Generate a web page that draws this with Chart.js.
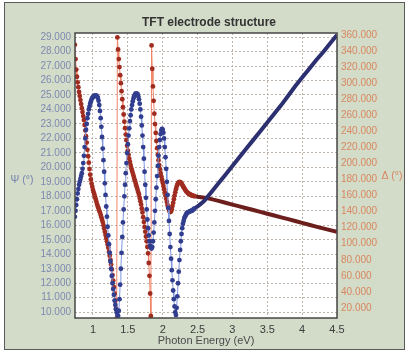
<!DOCTYPE html>
<html>
<head>
<meta charset="utf-8">
<script src="https://cdn.jsdelivr.net/npm/chart.js@4.4.0/dist/chart.umd.min.js"></script>
<style>
	html, body { margin: 0; padding: 0; background: #fff; }
</style>
</head>
<body>
<canvas id="myChart" width="409" height="357"></canvas>
<script>
// photon energy (eV): dense sampling through the fringes, coarser on the smooth tail
var energy = [
	0.74, 0.75, 0.76, 0.77, 0.78, 0.79, 0.80, 0.81, 0.82, 0.83,
	0.84, 0.85, 0.86, 0.87, 0.88, 0.89, 0.90, 0.91, 0.92, 0.93,
	0.94, 0.95, 0.96, 0.97, 0.98, 0.99, 1.00, 1.01, 1.02, 1.03,
	1.04, 1.05, 1.06, 1.07, 1.08, 1.09, 1.10, 1.11, 1.12, 1.13,
	1.14, 1.15, 1.16, 1.17, 1.18, 1.19, 1.20, 1.21, 1.22, 1.23,
	1.24, 1.25, 1.26, 1.27, 1.28, 1.29, 1.30, 1.31, 1.32, 1.33,
	1.34, 1.35, 1.36, 1.37, 1.38, 1.39, 1.40, 1.41, 1.42, 1.43,
	1.44, 1.45, 1.46, 1.47, 1.48, 1.49, 1.50, 1.51, 1.52, 1.53,
	1.54, 1.55, 1.56, 1.57, 1.58, 1.59, 1.60, 1.61, 1.62, 1.63,
	1.64, 1.65, 1.66, 1.67, 1.68, 1.69, 1.70, 1.71, 1.72, 1.73,
	1.74, 1.75, 1.76, 1.77, 1.78, 1.79, 1.80, 1.81, 1.82, 1.83,
	1.84, 1.85, 1.86, 1.87, 1.88, 1.89, 1.90, 1.91, 1.92, 1.93,
	1.94, 1.95, 1.96, 1.97, 1.98, 1.99, 2.00, 2.01, 2.02, 2.03,
	2.04, 2.05, 2.06, 2.07, 2.08, 2.09, 2.10, 2.11, 2.12, 2.13,
	2.14, 2.15, 2.16, 2.17, 2.18, 2.19, 2.20, 2.21, 2.22, 2.23,
	2.24, 2.25, 2.26, 2.27, 2.28, 2.29, 2.30, 2.31, 2.32, 2.33,
	2.34, 2.35, 2.36, 2.37, 2.38, 2.39, 2.40, 2.41, 2.42, 2.43,
	2.44, 2.45,
	2.50, 2.55, 2.60, 2.65, 2.70, 2.80, 2.90, 3.00, 3.10, 3.20,
	3.30, 3.40, 3.50, 3.60, 3.70, 3.80, 3.90, 4.00, 4.10, 4.20,
	4.30, 4.40, 4.50
];

// Psi (deg), left axis
var psi = [
	16.6, 17.0, 17.4, 17.8, 18.2, 18.5, 18.8, 19.0, 19.2, 19.4,
	19.6, 19.9, 20.3, 20.8, 21.4, 22.0, 22.6, 23.0, 23.4, 23.7,
	24.0, 24.2, 24.4, 24.55, 24.7, 24.8, 24.85, 24.9, 24.95, 24.95,
	24.95, 24.95, 24.9, 24.8, 24.6, 24.3, 23.9, 23.4, 22.8, 22.1,
	21.3, 20.5, 19.7, 18.9, 18.1, 17.3, 16.6, 15.9, 15.3, 14.7,
	14.1, 13.5, 13.0, 12.5, 12.0, 11.6, 11.2, 10.8, 10.5, 10.2,
	10.0, 9.8, 9.75, 10.1, 10.9, 11.9, 13.0, 14.1, 15.2, 16.2,
	17.1, 18.0, 18.8, 19.6, 20.3, 21.0, 21.6, 22.2, 22.7, 23.2,
	23.6, 24.0, 24.3, 24.55, 24.75, 24.9, 25.0, 25.1, 25.1, 25.1,
	25.05, 24.9, 24.7, 24.4, 24.0, 23.5, 22.9, 22.2, 21.4, 20.6,
	19.7, 18.8, 17.9, 17.1, 16.4, 15.8, 15.3, 14.9, 14.6, 14.45,
	14.4, 14.5, 14.9, 15.5, 16.2, 17.0, 17.8, 18.6, 19.4, 20.1,
	20.8, 21.4, 21.9, 22.3, 22.55, 22.65, 22.6, 22.4, 22.0, 21.4,
	20.7, 19.9, 19.0, 18.1, 17.2, 16.3, 15.4, 14.5, 13.7, 12.9,
	12.2, 11.5, 10.9, 10.4, 10.0, 9.8, 10.3, 11.1, 12.0, 12.8,
	13.6, 14.3, 14.9, 15.4, 15.8, 16.1, 16.3, 16.5, 16.6, 16.7,
	16.8, 16.85, 16.9, 16.9, 16.95, 16.95, 17.0, 17.0, 17.0, 17.05,
	17.1, 17.15,
	17.3, 17.5, 17.7, 18.0, 18.3, 18.9, 19.5, 20.1, 20.7, 21.3,
	21.9, 22.5, 23.1, 23.7, 24.3, 24.95, 25.6, 26.2, 26.8, 27.4,
	27.95, 28.55, 29.15
];

// Delta (deg), right axis
var delta = [
	348, 330, 317, 308, 301, 295, 289, 284, 279, 274,
	269, 264, 259, 254, 248, 241, 234, 226, 217, 209,
	201, 193, 186, 180, 175, 171, 167, 164, 161, 158,
	155, 152, 149, 146, 144, 141, 139, 136, 133, 130,
	127, 123, 119, 115, 111, 107, 103, 99, 95, 90,
	85, 80, 74, 68, 61, 54, 46, 38, 29, 19,
	7, 357, 342, 330, 320, 310, 300, 290, 280, 270,
	261, 252, 244, 236, 229, 222, 216, 211, 206, 202,
	198, 194, 191, 188, 185, 182, 179, 176, 173, 170,
	167, 164, 161, 157, 153, 149, 144, 139, 133, 127,
	121, 115, 109, 103, 96, 88, 76, 60, 38, 10,
	347, 318, 296, 278, 262, 249, 238, 228, 219, 211,
	204, 198, 193, 188, 184, 180, 176, 172, 168, 164,
	160, 156, 152, 148, 145, 142, 140, 139.5, 140.5, 143,
	147, 151, 155.5, 160, 164, 168, 171, 173.5, 175.5, 176.5,
	177, 176.8, 176, 175, 173.5, 172, 170.5, 169, 167.5, 166.2,
	165, 164, 163.2, 162.5, 162, 161.5, 161, 160.6, 160.2, 159.9,
	159.6, 159.3,
	158.6, 158, 157.4, 156.6, 155.6, 153.4, 151.1, 148.8, 146.5, 144.2,
	142, 139.7, 137.4, 135.2, 132.9, 130.6, 128.3, 126, 123.7, 121.4,
	119.2, 117, 114.8
];

var dotted = 2.45; // beyond this the markers merge into a solid line

var FONT = '"Liberation Sans", Arial, sans-serif';
Chart.defaults.font.family = FONT;

function pairs(ys) {
	return energy.map(function(e, i) { return {x: e, y: ys[i]}; });
}

function series(label, ys, axis, light, dark, dot) {
	return {
		label: label,
		data: pairs(ys),
		yAxisID: axis,
		borderColor: light,
		borderWidth: 1,
		pointRadius: function(c) { return energy[c.dataIndex] > dotted ? 0 : 2.4; },
		pointBackgroundColor: dot,
		pointBorderWidth: 0,
		tension: 0,
		segment: {
			borderColor: function(c) { return c.p0.parsed.x >= dotted ? dark : light; },
			borderWidth: function(c) { return c.p0.parsed.x >= dotted ? 4 : 1; }
		}
	};
}

var frame = {
	id: 'frame',
	beforeDraw: function(chart) {
		var ctx = chart.ctx, a = chart.chartArea;
		ctx.save();
		ctx.fillStyle = '#fff';
		ctx.fillRect(0, 0, chart.width, chart.height);
		ctx.fillStyle = '#d3dbc9';
		ctx.fillRect(4, 2, 401, 348);
		ctx.strokeStyle = '#5a5a5a';
		ctx.lineWidth = 1;
		ctx.strokeRect(4.5, 2.5, 400, 347);
		ctx.fillStyle = '#fff';
		ctx.fillRect(a.left, a.top, a.right - a.left, a.bottom - a.top);
		ctx.restore();
	},
	afterDraw: function(chart) {
		var ctx = chart.ctx, a = chart.chartArea;
		ctx.save();
		ctx.setLineDash([]);
		ctx.strokeStyle = '#474747';
		ctx.lineWidth = 1.5;
		ctx.strokeRect(a.left, a.top, a.right - a.left, a.bottom - a.top);
		ctx.textAlign = 'center';
		ctx.textBaseline = 'middle';
		ctx.font = 'bold 12px ' + FONT;
		ctx.fillStyle = '#333';
		ctx.fillText('TFT electrode structure', 209, 23);
		ctx.font = '10.5px ' + FONT;
		ctx.fillStyle = '#7483ad';
		ctx.fillText('\u03a8 (\u00b0)', 22, 180);
		ctx.fillStyle = '#d7835f';
		ctx.fillText('\u0394 (\u00b0)', 392, 176);
		ctx.restore();
	}
};

var tickFont = {size: 10};

var config = {
	type: 'line',
	data: {
		datasets: [
			series('Psi', psi, 'y', '#7d97e0', '#2c3070', '#313d8e'),
			series('Delta', delta, 'y2', '#f08468', '#6c1e1c', '#a02c20')
		]
	},
	options: {
		responsive: false,
		animation: false,
		layout: {padding: {top: 33, left: 0, right: 0, bottom: 0}},
		plugins: {legend: {display: false}, tooltip: {enabled: false}, title: {display: false}},
		scales: {
			x: {
				type: 'linear',
				min: 0.742,
				max: 4.5,
				afterFit: function(s) { s.height = 39; },
				ticks: {
					stepSize: 0.5, includeBounds: false, padding: 5, maxRotation: 0, autoSkip: false,
					color: '#3c3c3c', font: {size: 11},
					callback: function(v) { return String(v); }
				},
				grid: {color: '#bdb3a9', drawTicks: false},
				border: {display: false, dash: [2, 2]},
				title: {display: true, text: 'Photon Energy (eV)', color: '#4a4a4a', font: {size: 11}, padding: {top: 0, bottom: 9}}
			},
			y: {
				position: 'left',
				min: 9.6,
				max: 29.28,
				afterFit: function(s) { s.width = 75; },
				ticks: {
					stepSize: 1, includeBounds: false, padding: 4, autoSkip: false,
					color: '#7d8ab0', font: tickFont,
					callback: function(v) { return v.toFixed(3); }
				},
				grid: {color: '#bdb3a9', drawTicks: false},
				border: {display: false, dash: [2, 2]}
			},
			y2: {
				position: 'right',
				min: 7.5,
				max: 362.5,
				afterFit: function(s) { s.width = 72; },
				ticks: {
					stepSize: 20, includeBounds: false, padding: 4, autoSkip: false,
					color: '#d9875f', font: tickFont,
					callback: function(v) { return v.toFixed(3); }
				},
				grid: {display: false, drawTicks: false},
				border: {display: false}
			}
		}
	},
	plugins: [frame]
};

window.onload = function() {
	var ctx = document.getElementById('myChart');
	window.myChart = new Chart(ctx, config);
};
</script>
</body>
</html>
